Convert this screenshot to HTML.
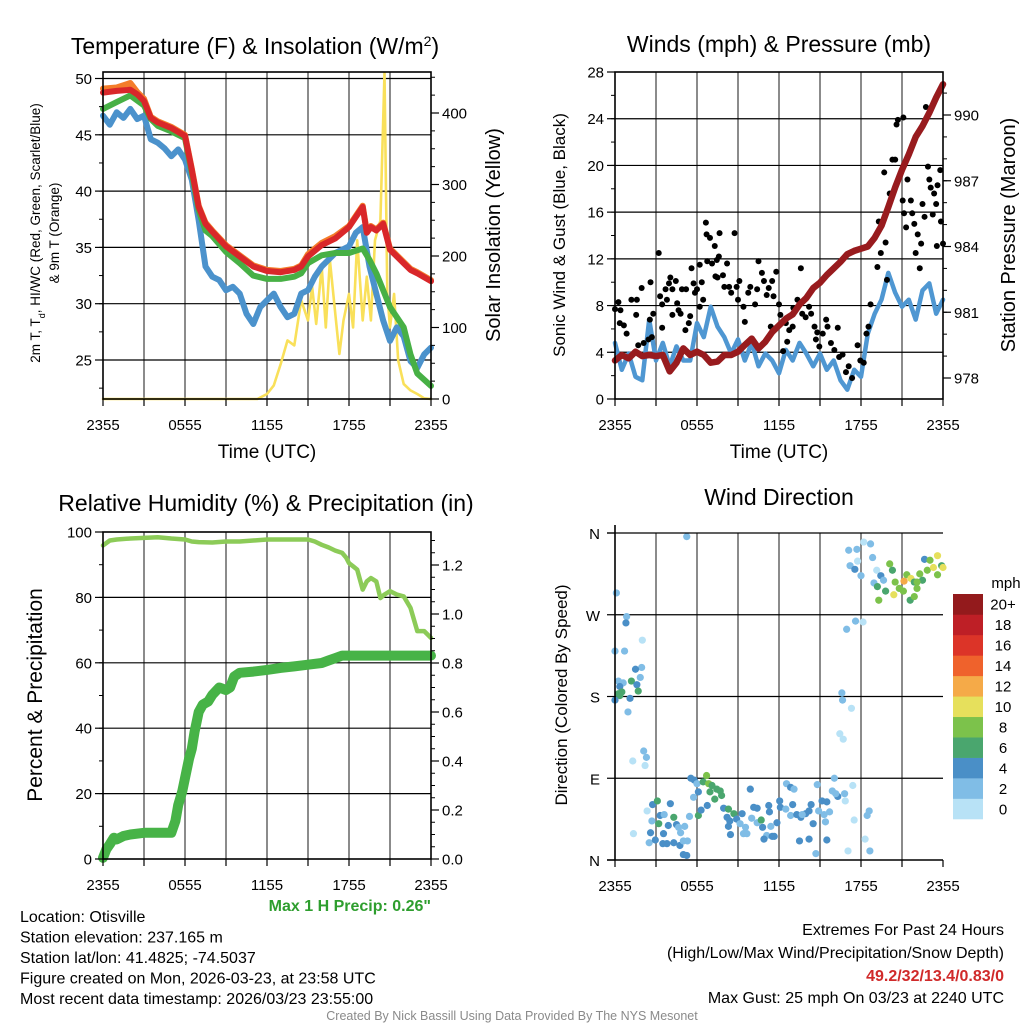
<!DOCTYPE html>
<html><head><meta charset="utf-8">
<style>
body{margin:0;background:#fff;}
svg{display:block;font-family:"Liberation Sans",Arial,sans-serif;}
</style></head>
<body>
<svg id="fig" width="1024" height="1024" viewBox="0 0 1024 1024" xmlns="http://www.w3.org/2000/svg">
<rect width="1024" height="1024" fill="#fff"/>
</svg>
<script>
// ===== Panel 1 data (hours since 2355) =====
const tempT = [0,1,2,2.5,3,3.5,4,5,6,6.5,7,7.5,8,9,10,11,12,13,14,14.5,15,16,17,18,18.5,19,19.3,19.6,20,20.5,21,22,22.5,23,24];
const tempRed = [48.75,48.9,49.0,48.6,48.0,46.5,46.1,45.6,44.9,41.9,38.6,37.1,36.4,35.1,34.2,33.3,32.9,32.8,33.0,33.3,34.2,35.2,35.8,36.8,37.7,38.6,36.3,36.8,36.5,37.1,34.8,33.6,33.0,32.7,32.0];
const tempOrange = [49.1,49.2,49.6,48.8,48.2,46.6,46.2,45.7,45.0,42.0,38.7,37.2,36.5,35.2,34.3,33.4,33.0,32.9,33.1,33.4,34.4,35.4,36.0,36.9,37.8,38.7,36.4,36.9,36.6,37.2,34.9,33.7,33.1,32.8,32.1];
const greenT = [0,1,2,3,3.5,4,5,6,6.5,7,7.5,8,9,10,11,12,13,14,14.5,15,16,17,18,19,19.5,20,20.5,21,22,22.5,23,24];
const tempGreen = [47.3,47.9,48.5,47.6,46.4,45.8,45.3,44.7,41.6,38.3,36.5,36.0,34.6,33.6,32.5,32.2,32.2,32.4,32.7,33.6,34.3,34.5,34.5,34.9,33.9,32.7,31.2,29.7,27.9,25.5,23.8,22.7];
const dewT = [0,0.5,1,1.5,2,2.5,3,3.5,4,4.5,5,5.5,6,6.5,7,7.5,8,8.5,9,9.5,10,10.5,11,11.5,12,12.5,13,13.5,14,14.5,15,15.5,16,16.5,17,17.5,18,18.5,19,19.5,20,20.5,21,21.5,22,22.5,23,23.5,24];
const dewBlue = [46.7,45.9,47.0,46.5,47.3,46.4,46.7,44.6,44.3,43.8,43.1,43.7,42.8,41.0,37.4,33.3,32.4,32.1,31.2,31.5,30.9,29.1,28.2,29.7,30.3,30.9,29.7,28.8,29.1,30.9,31.2,32.4,33.3,33.9,34.5,34.8,35.1,36.3,36.8,33.3,30.9,28.5,26.7,27.9,27.1,24.9,24.3,25.5,26.1];
const solarT = [0,11.3,12,12.5,13,13.5,14,14.5,15,15.3,15.6,16,16.3,16.6,17,17.3,17.6,18,18.3,18.6,19,19.3,19.6,19.9,20.3,20.6,20.8,21,21.3,21.6,22,22.5,23,23.5,24];
const solarV = [0,0,7,19,49,82,75,138,110,157,105,185,100,194,119,63,110,147,100,222,110,171,110,222,250,456,147,100,147,54,21,12,7,1,0];
const p1LeftTicks = [25,30,35,40,45,50];
const p1RightTicks = [0,100,200,300,400];
const timeLabels = ["2355","0555","1155","1755","2355"];

// ===== Panel 2 data =====
const presT = [0,0.5,1,1.5,2,2.5,3,3.5,4,4.5,5,5.5,6,6.5,7,7.5,8,8.5,9,9.5,10,10.5,11,11.5,12,12.5,13,13.5,14,14.5,15,15.5,16,16.5,17,17.5,18,18.5,19,19.5,20,20.5,21,21.5,22,22.5,23,23.5,24];
const presV = [978.8,979.05,978.9,979.2,979.0,979.05,979.0,979.05,978.3,978.7,979.35,979.05,979.2,979.05,978.7,978.75,979.05,979.05,979.2,979.5,979.8,979.35,979.65,980.1,980.4,980.7,980.9,981.35,981.65,982.1,982.35,982.7,983.0,983.3,983.65,983.8,983.9,984.0,984.4,984.95,985.8,986.7,987.5,988.2,989.0,989.5,990.1,990.8,991.4];
const sonicV = [4.8,2.5,3.9,1.9,1.6,6.8,3.3,4.8,2.8,4.5,3.3,3.3,6.5,5.3,7.9,6.2,5.3,3.9,5.1,3.3,4.8,2.8,3.9,3.3,2.2,4.2,3.3,4.8,3.9,2.8,3.9,2.5,3.3,1.6,0.8,2.5,1.9,5.6,7.3,8.5,10.8,9.1,7.9,8.5,6.8,9.3,9.9,7.3,8.5];
const gustT = [0,0.25,0.4,0.35,0.65,0.85,1.2,1.6,1.55,1.95,1.7,2.1,2.45,2.55,2.7,2.8,2.6,3.2,3.3,3.45,3.45,3.7,3.8,3.95,4.05,4.2,4.2,4.45,4.55,4.65,4.8,4.9,5.15,5.2,5.4,5.5,5.6,5.75,5.85,6.0,6.2,6.2,6.35,6.45,6.65,6.7,6.95,7.3,6.75,7.1,7.45,7.35,7.5,7.6,7.9,8.0,8.2,7.65,8.35,8.5,8.75,8.9,9.0,9.1,9.4,9.5,9.75,9.9,10.25,10.4,10.5,10.75,10.9,11.1,11.25,11.4,11.5,11.6,11.8,12.0,12.1,12.3,12.5,12.6,12.75,13.0,13.05,13.35,13.6,13.7,13.95,14.2,14.35,14.6,14.7,14.8,14.95,15.2,15.45,15.55,15.8,16.05,16.3,16.4,16.65,16.9,17.1,17.35,17.75,17.95,18.2,18.4,18.55,18.7,19.2,19.3,19.45,19.7,19.8,19.9,20.1,20.3,20.5,20.6,20.7,21.1,21.05,21.15,21.3,21.4,21.65,21.75,21.9,22.0,22.15,22.3,22.4,22.5,22.65,22.75,22.9,23.0,23.1,23.25,23.35,23.5,23.55,23.6,23.8,23.85,24.0];
const gustV = [7.7,8.3,7.6,6.5,6.3,5.6,8.5,8.5,7.2,9.5,4.6,4.8,5.1,6.8,5.3,7.3,10.0,12.5,8.8,8.1,6.1,9.4,8.5,9.9,10.4,9.4,7.2,10.1,8.2,7.6,7.3,9.4,5.9,9.4,6.5,7.1,11.2,9.9,9.1,9.4,11.5,7.9,10.0,8.5,15.1,14.1,13.8,13.1,11.8,11.6,11.9,10.5,10.4,12.2,10.6,9.6,11.6,14.2,9.6,9.1,14.2,9.6,8.5,10.1,7.9,6.6,9.1,9.6,8.1,9.4,11.8,10.8,10.1,8.9,9.5,6.2,10.1,8.8,10.9,8.1,7.2,4.1,6.5,4.9,5.9,6.2,7.8,8.5,11.2,7.3,7.0,7.9,7.3,6.2,5.1,5.7,4.5,5.6,6.8,6.2,4.8,4.2,6.1,3.6,3.8,2.3,2.8,1.8,4.6,3.3,3.1,5.6,6.2,8.1,11.3,15.2,12.5,19.4,13.4,10.2,17.6,20.5,20.5,23.5,23.9,24.1,17.0,15.9,14.7,18.8,17.0,15.9,15.0,12.5,14.1,11.2,13.3,16.7,15.6,25.0,19.9,18.8,18.1,15.8,17.6,16.7,13.1,18.3,19.6,15.2,13.3];
const windTicks = [0,4,8,12,16,20,24,28];
const presTicks = [978,981,984,987,990];

// ===== Panel 3 data =====
const rhT = [0,0.5,1,2,3,4,5,6,6.5,7,8,9,10,11,12,13,14,15,15.5,16,16.5,17,17.5,17.8,18,18.3,18.6,19,19.3,19.6,20,20.3,20.6,21,21.5,22,22.5,23,23.5,24];
const rhV = [95.9,97.4,97.7,98.0,98.2,98.4,98.0,97.7,97.1,96.9,96.8,97.1,97.1,97.4,97.7,97.7,97.7,97.7,97.1,96.1,95.3,94.3,93.6,92.1,90.5,89.5,88.5,82.4,84.9,85.9,84.9,79.8,80.9,81.9,80.9,80.3,76.8,69.7,69.7,67.6];
const prcT = [0,0.25,0.5,0.8,1,1.5,2,3,4,5,5.3,5.5,5.8,6,6.3,6.5,6.7,7,7.3,7.7,8,8.5,9,9.3,9.6,10,11,12,13,14,15,16,16.5,17,17.5,18,19,20,21,22,23,24];
const prcV = [0.005,0.04,0.06,0.087,0.08,0.094,0.1,0.107,0.107,0.107,0.155,0.22,0.277,0.33,0.41,0.45,0.52,0.6,0.63,0.643,0.67,0.70,0.69,0.70,0.745,0.76,0.765,0.772,0.78,0.786,0.793,0.80,0.81,0.82,0.83,0.83,0.83,0.83,0.83,0.83,0.83,0.83];
const rhTicks = [0,20,40,60,80,100];
const prcTicks = [0,0.2,0.4,0.6,0.8,1.0,1.2];

// ===== Panel 4 data =====
const dirT = [0.1,0.85,0.8,2.0,0,0.7,1.95,1.5,1.85,1.2,0.25,0.6,1.6,0.35,0.5,1.7,0.25,0.35,0,1.1,0.95,2.1,2.3,1.3,2.2,5.25,2.75,3.1,2.35,3.3,3.6,2.7,3.2,4.3,4.05,3.9,4.5,3.55,2.6,1.35,2.5,2.95,3.5,3.8,4.3,4.75,5.0,5.3,5.0,5.25,4.65,5.1,4.8,5.45,5.55,5.8,6.0,6.1,5.75,6.7,6.45,6.85,7.1,7.45,7.7,6.95,7.3,7.8,6.75,6.1,6.3,7.95,8.3,8.7,8.2,8.4,8.9,9.3,9.15,8.3,8.45,9.65,9.9,10.15,10.4,10.0,10.4,10.7,10.8,11.4,11.1,10.9,11.5,11.65,11.25,11.3,11.85,12.05,12.1,12.5,12.55,12.85,13.1,13.0,12.85,13.3,13.6,13.95,13.7,14.2,14.5,14.35,14.8,14.9,15.15,15.3,15.5,15.7,15.4,15.9,16.05,16.3,16.15,16.8,16.85,17.4,17.5,14.2,13.5,14.7,15.5,17.05,18.3,18.45,18.6,18.65,9.55,9.4,16.6,16.65,17.3,16.45,16.7,16.95,17.6,18.15,17.1,17.7,18.2,18.7,17.2,17.55,17.75,18.0,18.85,19.15,18.95,19.45,19.65,19.2,19.3,19.8,20.1,20.3,20.5,20.8,20.4,21.15,21.35,21.65,21.9,22.1,21.6,21.9,21.1,22.3,22.5,22.65,22.85,23.05,23.3,23.6,23.6,23.9,24.0,22.1];
const dirV = [294,268,261,242,230,230,212,210,201,197,197,195,193,191,185,186,183,181,176,178,163,120,113,109,104,356,61,65,54,49,50,43,40,47,62,38,39,29,30,29,19,22,18,18,19,16,21,21,6,5,36,37,30,48,90,88,84,75,69,93,86,84,82,78,76,75,67,71,60,49,55,57,56,51,47,43,45,51,40,37,28,29,78,58,57,46,41,44,36,37,27,23,26,26,60,53,41,65,58,56,84,80,78,61,49,50,47,51,50,54,40,61,83,54,65,50,64,53,42,76,90,70,73,73,65,82,44,23,21,7,22,10,23,49,54,10,36,29,184,176,167,139,133,254,263,262,341,342,350,348,324,320,329,313,333,319,305,313,308,301,286,296,326,319,306,299,292,307,314,310,306,299,286,290,296,315,308,331,319,330,322,335,314,324,322,306];
const dirS = [3,3,5,1,3,3,3,5,3,7,3,3,5,5,7,7,7,7,5,5,3,3,3,1,1,3,5,7,1,5,3,3,7,7,5,5,5,5,5,1,3,5,5,5,5,5,3,3,5,5,3,3,3,3,5,5,3,5,3,9,7,9,7,7,7,7,7,7,5,7,5,5,7,7,5,5,5,5,3,5,5,3,5,5,5,3,3,7,5,3,3,5,5,5,5,5,5,5,5,3,3,5,3,5,3,5,5,5,3,5,5,5,3,3,5,3,5,3,3,3,3,5,3,3,1,1,1,5,5,3,5,1,1,3,3,3,3,3,3,3,1,1,1,3,3,1,3,3,1,3,3,5,1,3,3,1,3,5,3,7,9,7,9,7,9,9,11,13,9,11,7,9,7,9,9,9,7,5,9,9,11,11,9,7,11,9,5,7];
const dirLabels = ["N","E","S","W","N"];
const cbLabels = ["0","2","4","6","8","10","12","14","16","18","20+"];
const cbColors = ["#b8e2f6","#80bde6","#4a8fc7","#4aa66e","#7cc24b","#e6e05c","#f5aa48","#ef622c","#dc3428","#be1f26","#931a1c"];

// ===== helpers =====
const NS = "http://www.w3.org/2000/svg";
const svg = document.getElementById("fig");
function mk(tag, attrs, parent){
  const e = document.createElementNS(NS, tag);
  for (const k in attrs) e.setAttribute(k, attrs[k]);
  (parent||svg).appendChild(e);
  return e;
}
function txt(s, x, y, size, anchor, parent, extra){
  const e = mk("text", Object.assign({x:x, y:y, "font-size":size, "text-anchor":anchor||"middle", fill:"#000"}, extra||{}), parent);
  e.textContent = s;
  return e;
}
function lin(d0,d1,r0,r1){ return v => r0 + (v-d0)/(d1-d0)*(r1-r0); }
function pathOf(xs, ys, sx, sy){
  let d = "";
  for (let i=0;i<xs.length;i++) d += (i?"L":"M") + sx(xs[i]).toFixed(1) + "," + sy(ys[i]).toFixed(1);
  return d;
}
function grid(g, X0,X1,Y0,Y1, hys){
  for (let h=3; h<24; h+=3){
    const x = lin(0,24,X0,X1)(h);
    const l = mk("line",{x1:x,x2:x,y1:Y0,y2:Y1,stroke:"#6e6e6e","stroke-width":1.6},g);
    
    
  }
  hys.forEach(y=>{
    const l = mk("line",{x1:X0,x2:X1,y1:y,y2:y,stroke:"#000","stroke-width":1.2},g);
    
    
  });
}
function timeAxis(g, X0, X1, Y1){
  const sx = lin(0,24,X0,X1);
  for (let h=0; h<=24; h+=3){
    mk("line",{x1:sx(h),x2:sx(h),y1:Y1,y2:Y1+7,stroke:"#000","stroke-width":1.2},g);
  }
  timeLabels.forEach((s,i)=>{
    const t = txt(s, sx(i*6), Y1+31, 15, "middle", g);
    
    
  });
}
function frame(g,X0,X1,Y0,Y1){
  const r = mk("rect",{x:X0,y:Y0,width:X1-X0,height:Y1-Y0,fill:"none",stroke:"#000","stroke-width":1.6},g);
  
  
}
function leftTicks(g, X0, vals, sy, fmt, minorStep, lo, hi){
  if (minorStep){ for (let v=lo; v<=hi+1e-9; v+=minorStep) mk("line",{x1:X0-4,x2:X0,y1:sy(v),y2:sy(v),stroke:"#000","stroke-width":1},g); }
  vals.forEach(v=>{
    mk("line",{x1:X0-8,x2:X0,y1:sy(v),y2:sy(v),stroke:"#000","stroke-width":1.2},g);
    const t = txt(fmt(v), X0-11, sy(v)+5.5, 15, "end", g);
    
    
  });
}
function rightTicks(g, X1, vals, sy, fmt, minorStep, lo, hi){
  if (minorStep){ for (let v=lo; v<=hi+1e-9; v+=minorStep) mk("line",{x1:X1,x2:X1+4,y1:sy(v),y2:sy(v),stroke:"#000","stroke-width":1},g); }
  vals.forEach(v=>{
    mk("line",{x1:X1,x2:X1+8,y1:sy(v),y2:sy(v),stroke:"#000","stroke-width":1.2},g);
    const t = txt(fmt(v), X1+11, sy(v)+5.5, 15, "start", g);
    
    
  });
}
function seriesPath(g, xs, ys, sx, sy, color, w, name){
  const p = mk("path",{d:pathOf(xs,ys,sx,sy),fill:"none",stroke:color,"stroke-width":w,"stroke-linejoin":"round","stroke-linecap":"round"},g);
  
  
  return p;
}

// ===== Panel 1 =====
(function(){
  const X0=103,X1=431,Y0=72,Y1=399;
  const g = mk("g",{});
  
  
  const sx = lin(0,24,X0,X1);
  const sy = lin(25,50,360,78.5);
  const sr = lin(0,400,399,113);
  grid(g,X0,X1,Y0,Y1,p1LeftTicks.map(sy));
  seriesPath(g, solarT, solarV, sx, sr, "#f9e05a", 2.6, "solar-insolation-line");
  seriesPath(g, dewT, dewBlue, sx, sy, "#4b92cc", 6, "dewpoint-line");
  seriesPath(g, greenT, tempGreen, sx, sy, "#47b045", 6, "heat-index-windchill-line");
  seriesPath(g, tempT, tempOrange, sx, sy, "#f47d2a", 6, "9m-temperature-line");
  seriesPath(g, tempT, tempRed, sx, sy, "#d9272a", 6, "2m-temperature-line");
  frame(g,X0,X1,Y0,Y1);
  leftTicks(g,X0,p1LeftTicks,sy,v=>String(v),2.5,22.5,50);
  rightTicks(g,X1,p1RightTicks,sr,v=>String(v),25,0,450);
  timeAxis(g,X0,X1,Y1);
  const t1 = txt("Temperature (F) & Insolation (W/m", 255, 54, 23, "middle", g);
  const sup = mk("tspan",{"baseline-shift":"super","font-size":14},t1); sup.textContent="2";
  const cl = mk("tspan",{},t1); cl.textContent=")";
  
  
  const xt = txt("Time (UTC)", 267, 458, 19, "middle", g);
  
  
  const yl = mk("text",{transform:"translate(40,233) rotate(-90)","font-size":13.5,"text-anchor":"middle",fill:"#000"},g);
  
  
  const a = mk("tspan",{x:0,y:0},yl); a.textContent="2m T, T";
  const sub = mk("tspan",{"baseline-shift":"sub","font-size":9},yl); sub.textContent="d";
  const b = mk("tspan",{},yl); b.textContent=", HI/WC (Red, Green, Scarlet/Blue)";
  const c = mk("tspan",{x:0,y:19},yl); c.textContent="& 9m T (Orange)";
  const yr = txt("Solar Insolation (Yellow)", 0, 0, 20, "middle", g, {transform:"translate(500,235) rotate(-90)"});
  
  
})();

// ===== Panel 2 =====
(function(){
  const X0=615,X1=943,Y0=72,Y1=399;
  const g = mk("g",{});
  
  
  const sx = lin(0,24,X0,X1);
  const sy = lin(0,28,Y1,Y0);
  const sp = lin(978,990,378,115);
  grid(g,X0,X1,Y0,Y1,windTicks.slice(1,-1).map(sy));
  seriesPath(g, presT, sonicV, sx, sy, "#4f97d2", 4.5, "sonic-wind-line");
  for (let i=0;i<gustT.length;i++){
    const c = mk("circle",{cx:sx(gustT[i]),cy:sy(gustV[i]),r:3,fill:"#000"},g);
    
    
  }
  seriesPath(g, presT, presV, sx, sp, "#981b1e", 6.5, "pressure-line");
  frame(g,X0,X1,Y0,Y1);
  leftTicks(g,X0,windTicks,sy,v=>String(v),2,0,28);
  rightTicks(g,X1,presTicks,sp,v=>String(v),1,978,991);
  timeAxis(g,X0,X1,Y1);
  const t = txt("Winds (mph) & Pressure (mb)", 779, 52, 23, "middle", g);
  
  
  const xt = txt("Time (UTC)", 779, 458, 19, "middle", g);
  
  
  const yl = txt("Sonic Wind & Gust (Blue, Black)", 0, 0, 17, "middle", g, {transform:"translate(565,235) rotate(-90)"});
  
  
  const yr = txt("Station Pressure (Maroon)", 0, 0, 20, "middle", g, {transform:"translate(1015,235) rotate(-90)"});
  
  
})();

// ===== Panel 3 =====
(function(){
  const X0=103,X1=431,Y0=532,Y1=859;
  const g = mk("g",{});
  
  
  const sx = lin(0,24,X0,X1);
  const sy = lin(0,100,Y1,Y0);
  const sp = lin(0,1.2,Y1,565);
  grid(g,X0,X1,Y0,Y1,[20,40,60,80].map(sy));
  seriesPath(g, rhT, rhV, sx, sy, "#8ccb58", 4.5, "relative-humidity-line");
  seriesPath(g, prcT, prcV, sx, sp, "#47b347", 10, "precipitation-line");
  frame(g,X0,X1,Y0,Y1);
  leftTicks(g,X0,rhTicks,sy,v=>String(v),10,0,100);
  rightTicks(g,X1,prcTicks,sp,v=>v.toFixed(1),0.05,0,1.3);
  timeAxis(g,X0,X1,Y1);
  const t = txt("Relative Humidity (%) & Precipitation (in)", 266, 511, 23, "middle", g);
  
  
  const yl = txt("Percent & Precipitation", 0, 0, 21, "middle", g, {transform:"translate(42,695) rotate(-90)"});
  
  
  const mp = txt("Max 1 H Precip: 0.26\"", 431, 911, 16, "end", g, {"font-weight":"bold",fill:"#2e9e2e"});
  
  
})();

// ===== Panel 4 =====
(function(){
  const X0=615,X1=943,Y0=533,Y1=860;
  const g = mk("g",{});
  
  
  const sx = lin(0,24,X0,X1);
  const sy = lin(0,360,Y1,Y0);
  grid(g,X0,X1,Y0,Y1,[90,180,270].map(sy));
  function colorFor(s){ let i=Math.floor(s/2); if(i>10)i=10; return cbColors[i]; }
  for (let i=0;i<dirT.length;i++){
    const c = mk("circle",{cx:sx(dirT[i]),cy:sy(dirV[i]),r:3.6,fill:colorFor(dirS[i])},g);
    
    
  }
  mk("line",{x1:X0-8,x2:X1,y1:Y0,y2:Y0,stroke:"#000","stroke-width":1.2},g);
  mk("line",{x1:X0-8,x2:X1,y1:Y1,y2:Y1,stroke:"#000","stroke-width":1.6},g);
  mk("line",{x1:X0,x2:X0,y1:Y0-8,y2:Y1,stroke:"#000","stroke-width":1.6},g);
  dirLabels.forEach((s,i)=>{
    mk("line",{x1:X0-8,x2:X0,y1:sy(i*90),y2:sy(i*90),stroke:"#000","stroke-width":1.2},g);
    const t = txt(s, X0-15, sy(i*90)+6, 15, "end", g);
    
    
  });
  timeAxis(g,X0,X1,Y1);
  const t = txt("Wind Direction", 779, 505, 23, "middle", g);
  
  
  const yl = txt("Direction (Colored By Speed)", 0, 0, 17, "middle", g, {transform:"translate(567,695) rotate(-90)"});
  
  
  // colorbar
  const cb = mk("g",{},g);
  
  
  const top=594, bot=819, h=(bot-top)/cbColors.length;
  cbColors.forEach((col,i)=>{
    const y = bot-(i+1)*h;
    const r = mk("rect",{x:953,y:y,width:30,height:h+0.3,fill:col},cb);
    
    
    const l = txt(cbLabels[i], 1003, y+h/2+5.5, 15, "middle", cb);
    
    
  });
  const u = txt("mph", 1006, 588, 15, "middle", cb);
  
  
})();

// ===== Footer text =====
(function(){
  const g = mk("g",{});
  
  
  ["Location: Otisville","Station elevation: 237.165 m","Station lat/lon: 41.4825; -74.5037","Figure created on Mon, 2026-03-23, at 23:58 UTC","Most recent data timestamp: 2026/03/23 23:55:00"].forEach((s,i)=>{
    const t = txt(s, 20, 922+i*20.5, 16, "start", g);
    
    
  });
  const g2 = mk("g",{});
  
  
  const e1 = txt("Extremes For Past 24 Hours", 1004, 935, 16, "end", g2);
  
  
  const e2 = txt("(High/Low/Max Wind/Precipitation/Snow Depth)", 1004, 958, 16, "end", g2);
  
  
  const e3 = txt("49.2/32/13.4/0.83/0", 1004, 981, 16, "end", g2, {"font-weight":"bold",fill:"#d02a2a"});
  
  
  const e4 = txt("Max Gust: 25 mph On 03/23 at 2240 UTC", 1004, 1003, 16, "end", g2);
  
  
  const cr = txt("Created By Nick Bassill Using Data Provided By The NYS Mesonet", 512, 1020, 12.5, "middle", null, {fill:"#8a8a8a"});
  
  
})();
</script>
</body></html>
